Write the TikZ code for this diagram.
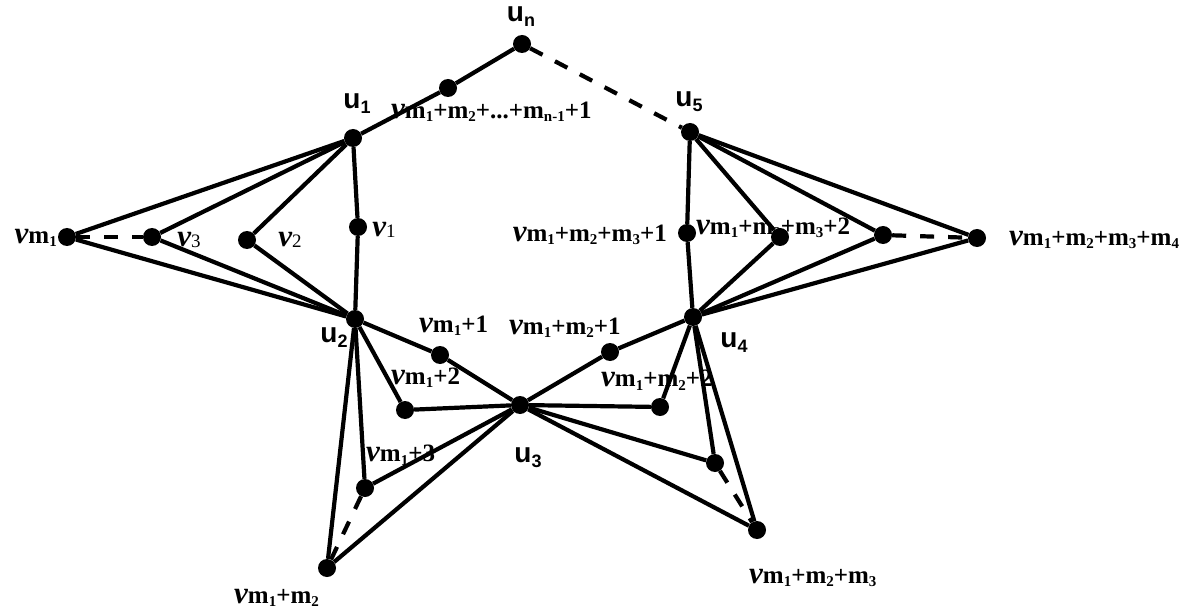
\documentclass[tikz,border=0pt]{standalone}
\usepackage{fontspec}
\setmainfont{Liberation Serif}
\newfontfamily\uf{Liberation Sans}
\newcommand{\dg}[1]{\raisebox{-0.3ex}{\fontsize{15}{15}\selectfont #1}}
\newcommand{\Vl}[1]{{\fontsize{31}{31}\selectfont\bfseries\itshape v}{\fontsize{25}{25}\selectfont\bfseries #1}}
\newcommand{\Vk}[1]{{\fontsize{31}{31}\selectfont\bfseries\itshape v}\raisebox{-0.3ex}{\fontsize{19}{19}\selectfont #1}}
\newcommand{\Ul}[1]{{\uf\bfseries\fontsize{28}{28}\selectfont u\raisebox{-0.35ex}{\fontsize{18}{18}\selectfont #1}}}
\tikzset{
  dot/.style={circle,fill=black,inner sep=0pt,minimum size=18pt},
  edge/.style={line width=4.2pt},
  dedge/.style={line width=4.2pt,dash pattern=on 14pt off 14pt},
  lab/.style={inner sep=1pt}
}
\begin{document}
\begin{tikzpicture}[x=1pt,y=-1pt]
\useasboundingbox (0,0) rectangle (1198,612);
% labels
\node[lab] (Lun) at (521,17) {\Ul{n}};
\node[lab,anchor=west] (Lw) at (390,112) {\Vl{m\dg{1}+m\dg{2}+...+m\dg{n-1}+1}};
\node[lab] (Lu1) at (357,104) {\Ul{1}};
\node[lab] (Lu5) at (689,102) {\Ul{5}};
\node[lab,anchor=east] (Lvm1) at (58,238) {\Vl{m\dg{1}}};
\node[lab] (Lv3) at (189,240) {\Vk{3}};
\node[lab] (Lv2) at (290,240) {\Vk{2}};
\node[lab] (Lv1) at (384,230) {\Vk{1}};
\node[lab] (Lu2) at (334,338) {\Ul{2}};
\node[lab,anchor=west] (La1) at (418,326) {\Vl{m\dg{1}+1}};
\node[lab,anchor=west] (Lb1) at (508,328) {\Vl{m\dg{1}+m\dg{2}+1}};
\node[lab,anchor=west] (La2) at (390,378) {\Vl{m\dg{1}+2}};
\node[lab,anchor=west] (Lb2) at (600,380) {\Vl{m\dg{1}+m\dg{2}+2}};
\node[lab] (Lu4) at (734,343) {\Ul{4}};
\node[lab] (Lu3) at (528,458) {\Ul{3}};
\node[lab,anchor=west] (La3) at (365,455) {\Vl{m\dg{1}+3}};
\node[lab,anchor=west] (La4) at (233,598) {\Vl{m\dg{1}+m\dg{2}}};
\node[lab,anchor=west] (Lb4) at (748,578) {\Vl{m\dg{1}+m\dg{2}+m\dg{3}}};
\node[lab,anchor=east] (Lc1) at (668,235) {\Vl{m\dg{1}+m\dg{2}+m\dg{3}+1}};
\node[lab,anchor=west] (Lc2) at (695,228) {\Vl{m\dg{1}+m\dg{2}+m\dg{3}+2}};
\node[lab,anchor=west] (Lc4) at (1008,240) {\Vl{m\dg{1}+m\dg{2}+m\dg{3}+m\dg{4}}};
% vertices
\node[dot] (un) at (522,44) {};
\node[dot] (w) at (448,88) {};
\node[dot] (u1) at (353,138) {};
\node[dot] (u5) at (690,132) {};
\node[dot] (vm1) at (67,237) {};
\node[dot] (v3) at (152,237) {};
\node[dot] (v2) at (247,240) {};
\node[dot] (v1) at (358,227) {};
\node[dot] (u2) at (355,319) {};
\node[dot] (a1) at (440,355) {};
\node[dot] (a2) at (405,410) {};
\node[dot] (a3) at (365,488) {};
\node[dot] (a4) at (327,568) {};
\node[dot] (u3) at (520,405) {};
\node[dot] (b1) at (610,352) {};
\node[dot] (b2) at (660,407) {};
\node[dot] (b3) at (715,463) {};
\node[dot] (b4) at (757,530) {};
\node[dot] (u4) at (693,317) {};
\node[dot] (c1) at (687,233) {};
\node[dot] (c2) at (780,237) {};
\node[dot] (c3) at (883,235) {};
\node[dot] (c4) at (977,238) {};
% edges
\draw[edge] (u1) -- (w) -- (un);
\draw[dedge] (un) -- (u5);
\draw[edge] (u1) -- (vm1) -- (u2);
\draw[edge] (u1) -- (v3) -- (u2);
\draw[edge] (u1) -- (v2) -- (u2);
\draw[edge] (u1) -- (v1) -- (u2);
\draw[dedge] (vm1) -- (v3);
\draw[edge] (u2) -- (a1) -- (u3);
\draw[edge] (u2) -- (a2) -- (u3);
\draw[edge] (u2) -- (a3) -- (u3);
\draw[edge] (u2) -- (a4) -- (u3);
\draw[dedge] (a3) -- (a4);
\draw[edge] (u3) -- (b1) -- (u4);
\draw[edge] (u3) -- (b2) -- (u4);
\draw[edge] (u3) -- (b3) -- (u4);
\draw[edge] (u3) -- (b4) -- (u4);
\draw[dedge] (b3) -- (b4);
\draw[edge] (u4) -- (c1) -- (u5);
\draw[edge] (u4) -- (c2) -- (u5);
\draw[edge] (u4) -- (c3) -- (u5);
\draw[edge] (u4) -- (c4) -- (u5);
\draw[dedge] (c3) -- (c4);
\end{tikzpicture}
\end{document}
